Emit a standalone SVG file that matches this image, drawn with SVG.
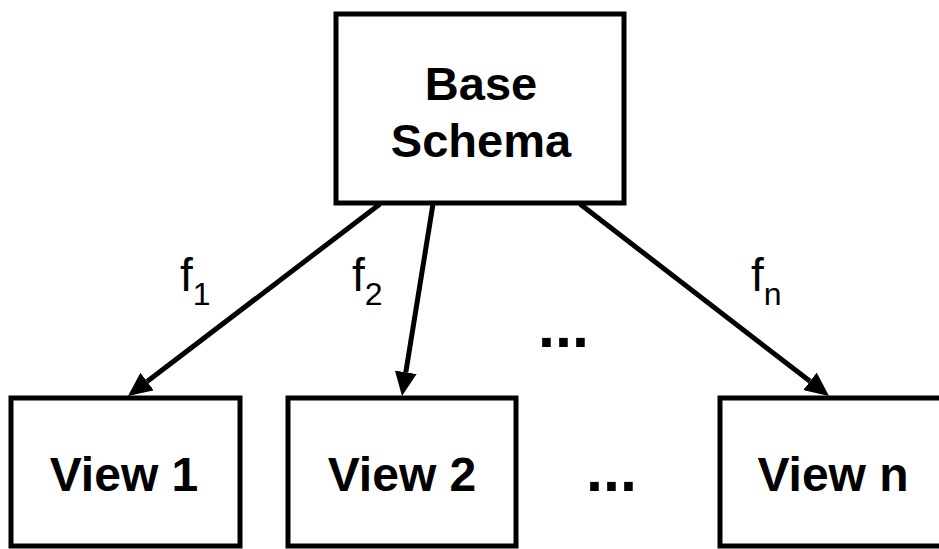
<svg xmlns="http://www.w3.org/2000/svg" width="939" height="549" viewBox="0 0 939 549">
<style>
.box{fill:#fff;stroke:#000;stroke-width:5}
.t{font-family:"Liberation Sans",Arial,sans-serif;font-weight:bold;font-size:47px;text-anchor:middle;fill:#000}
.v{font-size:48px}
.dots{font-size:61px}
.lbl{font-family:"Liberation Sans",Arial,sans-serif;font-size:46px;fill:#000}
.sub{font-size:32px}
.edge{stroke:#000;stroke-width:5;fill:none;marker-end:url(#ah)}
</style>
<defs>
<marker id="ah" viewBox="0 -11 24 22" refX="0" refY="0" markerWidth="24" markerHeight="22" markerUnits="userSpaceOnUse" orient="auto">
<path d="M0,-11 L24,0 L0,11 z" fill="#000"/>
</marker>
</defs>
<rect width="939" height="549" fill="#fff"/>
<g id="base">
<rect class="box" x="336" y="14" width="288" height="189"/>
<text class="t" x="481" y="100">Base</text>
<text class="t" x="481" y="157">Schema</text>
</g>
<g id="view1">
<rect class="box" x="11" y="398" width="229" height="148"/>
<text class="t v" x="124" y="491">View 1</text>
</g>
<g id="view2">
<rect class="box" x="288" y="398" width="228" height="148"/>
<text class="t v" x="402" y="491">View 2</text>
</g>
<g id="viewn">
<rect class="box" x="720" y="398" width="230" height="148"/>
<text class="t v" x="833" y="491">View n</text>
</g>
<g id="connectors">
<line class="edge" x1="380" y1="204" x2="147.1" y2="381.5"/>
<line class="edge" x1="433" y1="204" x2="405.8" y2="372.3"/>
<line class="edge" x1="580" y1="204" x2="810" y2="381.3"/>
</g>
<g id="labels">
<text class="lbl" x="180" y="291">f<tspan class="sub" dy="14">1</tspan></text>
<text class="lbl" x="352" y="291">f<tspan class="sub" dy="14">2</tspan></text>
<text class="lbl" x="751" y="291">f<tspan class="sub" dy="14">n</tspan></text>
<text class="t dots" x="563.5" y="347">...</text>
<text class="t dots" x="611.5" y="491">...</text>
</g>
</svg>
